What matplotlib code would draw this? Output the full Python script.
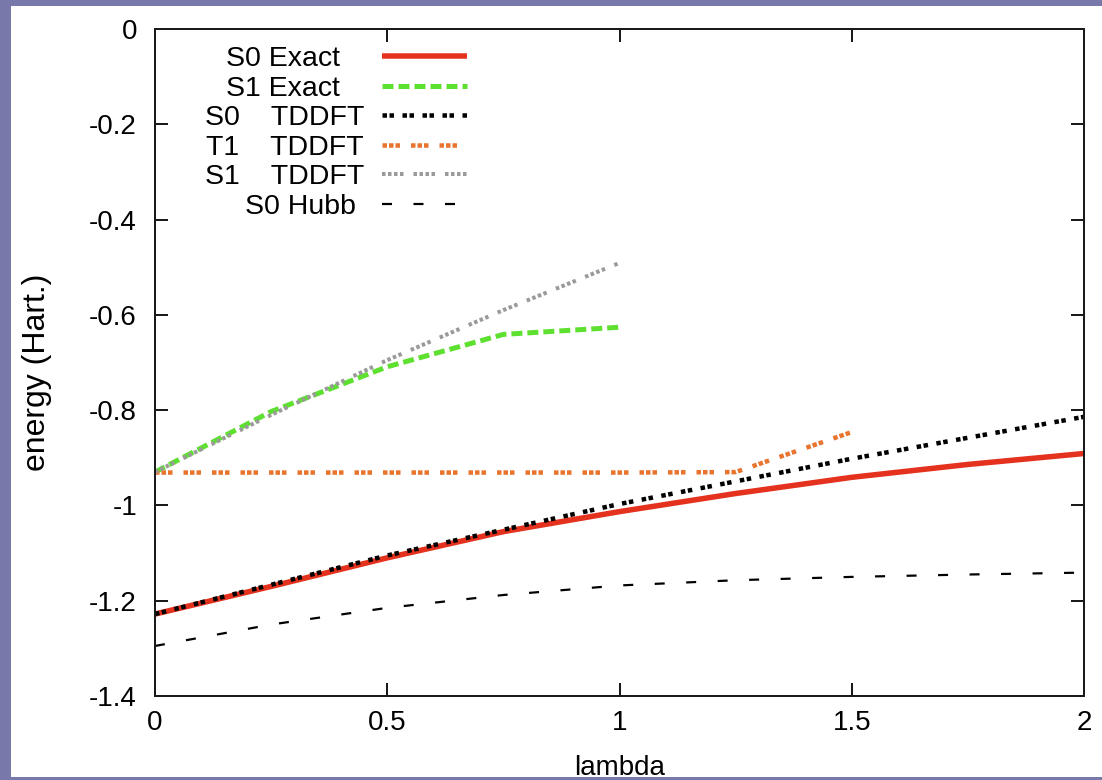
import matplotlib
matplotlib.use("Agg")
import matplotlib.pyplot as plt
from matplotlib.patches import Rectangle
from matplotlib.lines import Line2D
from matplotlib.ticker import FixedLocator, FixedFormatter

# ---------------- data ----------------
lam_fine = [0.0, 0.25, 0.5, 0.75, 1.0, 1.25, 1.5, 1.75, 2.0]
s0_exact = [-1.228, -1.170, -1.110, -1.055, -1.013, -0.975, -0.941, -0.914, -0.891]
s0_hubb = [-1.295, -1.250, -1.215, -1.188, -1.168, -1.157, -1.150, -1.145, -1.141]

lam_s1 = [0.0, 0.25, 0.5, 0.75, 1.0]
s1_exact = [-0.930, -0.803, -0.709, -0.641, -0.626]
s1_tddft = [-0.930, -0.810, -0.695, -0.590, -0.491]

lam_s0t = [0.0, 0.5, 1.0, 1.5, 2.0]
s0_tddft = [-1.228, -1.105, -0.997, -0.902, -0.814]

lam_t1 = [0.0, 0.25, 0.5, 0.75, 1.0, 1.25, 1.5]
t1_tddft = [-0.931, -0.931, -0.931, -0.931, -0.931, -0.930, -0.846]

xticks = [0, 0.5, 1, 1.5, 2]
xtick_labels = ["0", "0.5", "1", "1.5", "2"]
yticks = [0, -0.2, -0.4, -0.6, -0.8, -1.0, -1.2, -1.4]
ytick_labels = ["0", "-0.2", "-0.4", "-0.6", "-0.8", "-1", "-1.2", "-1.4"]

legend_labels = ["S0 Exact", "S1 Exact", "S0    TDDFT", "T1    TDDFT", "S1    TDDFT", "S0 Hubb"]
xlabel = "lambda"
ylabel = "energy (Hart.)"

# ---------------- style ----------------
plt.rcParams['font.family'] = ['Liberation Sans', 'DejaVu Sans']
plt.rcParams['axes.unicode_minus'] = False
plt.rcParams['lines.scale_dashes'] = False

W, H = 1102, 780
fig = plt.figure(figsize=(W / 100, H / 100), dpi=100)
fig.patch.set_facecolor('white')

L, R, T, B = 155, 1084, 29, 696
ax = fig.add_axes([L / W, 1 - B / H, (R - L) / W, (B - T) / H])

px = 0.72  # points per pixel

styles = [
    dict(color='#E4321E', lw=5.5 * px, ls='-'),
    dict(color='#5EE030', lw=5 * px, ls=(0, (11 * px, 5 * px))),
    dict(color='#000000', lw=4.5 * px, ls=(0, (4.5 * px, 2.5 * px, 4.5 * px, 8.5 * px))),
    dict(color='#E8742E', lw=4.5 * px, ls=(0, (4.5 * px, 2 * px, 4.5 * px, 2 * px, 4.5 * px, 11 * px))),
    dict(color='#9A9A9A', lw=4 * px, ls=(0, (3.5 * px, 2.5 * px, 3.5 * px, 2.5 * px, 3.5 * px, 2.5 * px, 3.5 * px, 10 * px))),
    dict(color='#000000', lw=2.2 * px, ls=(0, (10 * px, 21.5 * px))),
]

series = [
    (lam_fine, s0_exact),
    (lam_s1, s1_exact),
    (lam_s0t, s0_tddft),
    (lam_t1, t1_tddft),
    (lam_s1, s1_tddft),
    (lam_fine, s0_hubb),
]
for i, (xs, ys) in enumerate(series):
    st = styles[i]
    ax.plot(xs, ys, color=st['color'], lw=st['lw'], linestyle=st['ls'],
            dash_capstyle='butt', solid_capstyle='butt', zorder=2 + i * 0.1)

ax.set_xlim(0, 2)
ax.set_ylim(-1.4, 0)
ax.xaxis.set_major_locator(FixedLocator(xticks))
ax.xaxis.set_major_formatter(FixedFormatter(xtick_labels))
ax.yaxis.set_major_locator(FixedLocator(yticks))
ax.yaxis.set_major_formatter(FixedFormatter(ytick_labels))

for s in ax.spines.values():
    s.set_linewidth(2.0 * px)
    s.set_color('#1a1a1a')
ax.tick_params(direction='in', length=13 * px, width=2.0 * px, color='#1a1a1a',
               top=True, right=True, labelsize=20, labelcolor='black')
ax.tick_params(axis='y', pad=18 * px)
ax.tick_params(axis='x', pad=14 * px)

ax.set_xlabel(xlabel, fontsize=20)
ax.xaxis.set_label_coords(0.5, -(755 - B) / (B - T))
ax.set_ylabel(ylabel, fontsize=23)
ax.yaxis.set_label_coords((52 - L) / (R - L), (B - 372) / (B - T))

# ---------------- manual legend ----------------
def fx(p):
    return (p - L) / (R - L)

def fy(p):
    return (B - p) / (B - T)

row_y = [56, 85.5, 115, 144.5, 174, 203.5]
text_right = [340, 340, 364, 364, 364, 356]
for i in range(6):
    st = styles[i]
    ax.add_line(Line2D([fx(382), fx(467)], [fy(row_y[i]), fy(row_y[i])],
                       transform=ax.transAxes, color=st['color'], lw=st['lw'],
                       linestyle=st['ls'], dash_capstyle='butt', solid_capstyle='butt'))
    ax.text(fx(text_right[i]), fy(row_y[i]), legend_labels[i], transform=ax.transAxes,
            ha='right', va='center_baseline', fontsize=20.5, color='black')

# ---------------- slide border ----------------
border = '#7878AA'
fig.patches.append(Rectangle((0, 0), 11 / W, 1, transform=fig.transFigure,
                             facecolor=border, edgecolor='none', zorder=10))
fig.patches.append(Rectangle((0, 1 - 6 / H), 1, 6 / H, transform=fig.transFigure,
                             facecolor=border, edgecolor='none', zorder=10))
fig.patches.append(Rectangle((0, 0), 1, 3.5 / H, transform=fig.transFigure,
                             facecolor=border, edgecolor='none', zorder=10))

fig.savefig('out.png', dpi=100, facecolor=fig.get_facecolor())
